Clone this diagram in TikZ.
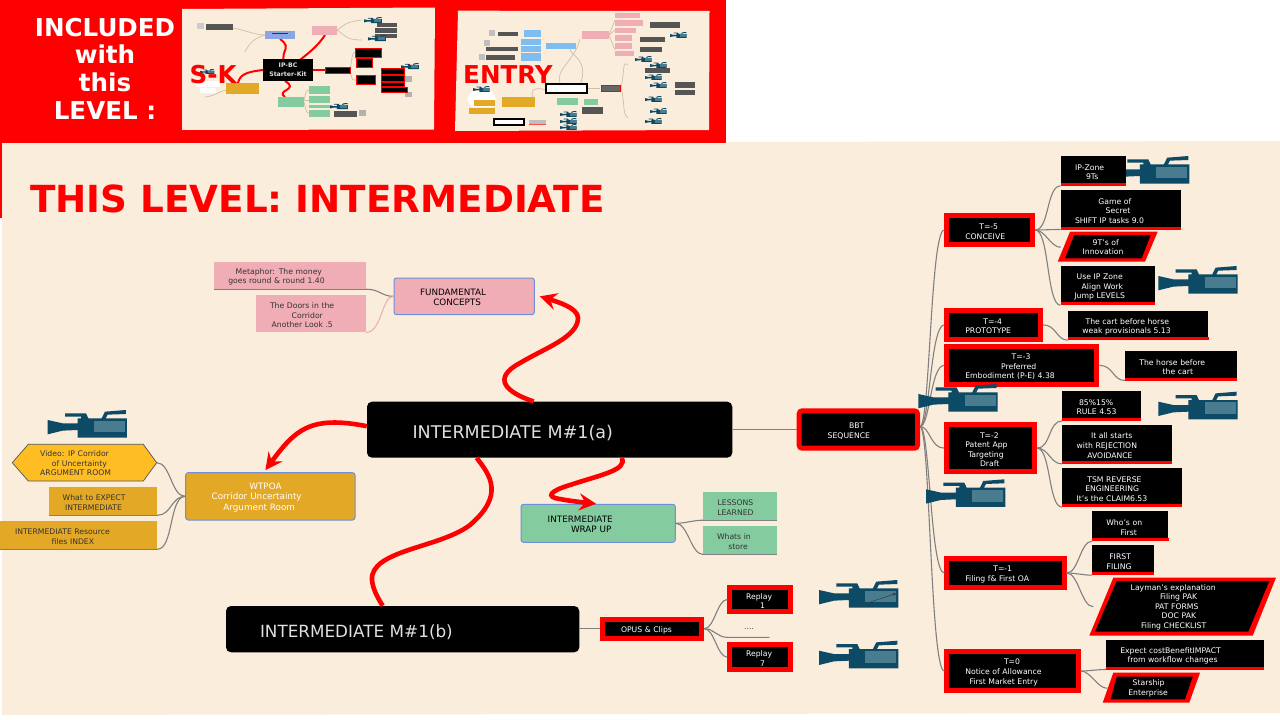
\documentclass[tikz,border=0pt]{standalone}
\usepackage{fontspec}
\setmainfont{DejaVu Sans}
\usetikzlibrary{arrows.meta}
\definecolor{cream}{HTML}{FAEDDC}
\definecolor{pinkb}{HTML}{F0ADB5}
\definecolor{greenb}{HTML}{85CBA0}
\definecolor{orangeb}{HTML}{E3A825}
\definecolor{hexb}{HTML}{FFBD24}
\definecolor{blueb}{HTML}{6F8FDC}
\definecolor{camb}{HTML}{0D4A66}
\definecolor{cams}{HTML}{4A7C90}
\definecolor{conc}{HTML}{808080}
\definecolor{tgray}{HTML}{555555}
\definecolor{lblue}{HTML}{7FBDF0}
\definecolor{tline}{HTML}{CDBFA8}
\newcommand\sm{\fontsize{7.7}{9.6}\selectfont}
\newcommand\md{\fontsize{8.8}{10.7}\selectfont}
\newcommand\Ln[2]{\hspace*{#1pt}#2}
\newcommand\bx[7]{%
  \pgfmathsetmacro\bxw{#5-#3}\pgfmathsetmacro\bxh{#6-#4}%
  \pgfmathsetmacro\bxx{(#3+#5)/2}\pgfmathsetmacro\bxy{(#4+#6)/2}%
  \node[#1,text width=\bxw pt] (#2) at (\bxx,\bxy) {\rule{0pt}{8.6pt}#7};}
\newcommand\rb[1]{\fill[red] (#1.south west) rectangle ([yshift=3pt]#1.south east);}
\newcommand\cam[3]{%
 \begin{scope}[shift={(#1,#2)},scale=#3]
  \fill[camb] (0,30)--(45,40)--(90,40)--(90,25)--(100,25)--(100,20)--(52,20)--(52,10)--(115,10)--(122,25)--(162,25)--(172,5)--(235,0)--(235,12)--(180,14)--(174,25)--(238,25)--(238,83)--(90,83)--(90,60)--(45,62)--(0,73)--cycle;
  \fill[cams] (139,32) rectangle (232,67);
 \end{scope}}
\tikzset{
 x=1pt,y=-1pt,
 bxbase/.style={inner sep=0pt,align=left,font=\sm,text=white},
 kbox/.style={bxbase,fill=black,minimum height=\bxh pt},
 rbox/.style={bxbase,fill=black,draw=red,line width=5pt,inner xsep=-2.5pt,minimum height=\bxh pt-5pt},
 rrbox/.style={rbox,rounded corners=3pt},
 leaf/.style={inner sep=0pt,align=left,font=\sm,text=black!80,minimum height=\bxh pt},
 pinkleaf/.style={leaf,fill=pinkb},
 greenleaf/.style={leaf,fill=greenb},
 orangeleaf/.style={leaf,fill=orangeb},
 topic/.style={inner xsep=0pt,inner ysep=0pt,align=left,font=\md,draw=blueb,line width=1pt,rounded corners=2.5pt,minimum height=\bxh pt},
 mainbox/.style={inner sep=0pt,align=left,text=white!88!black,fill=black,rounded corners=5pt,minimum height=\bxh pt},
 conn/.style={draw=conc,line width=1.1pt},
 redc/.style={draw=red,line width=4.6pt},
 redarrow/.style={redc,-{Stealth[length=17pt,width=17pt,inset=6pt]}},
 para/.style={inner sep=0pt,align=left,font=\sm,text=white},
 under/.style={draw=conc,line width=1.1pt},
 big/.style={inner sep=0pt,font=\bfseries\fontsize{24.6}{27.7}\selectfont},
 tred/.style={draw=red,line width=2pt},
 tl/.style={draw=tline,line width=0.7pt},
}
\begin{document}
\begin{tikzpicture}
\useasboundingbox (0,0) rectangle (1280,720);
\fill[white] (0,0) rectangle (1280,720);
\fill[cream] (2,143)--(726,143)--(726,142)--(1280,141)--(1280,713)--(2,715)--cycle;
\fill[red] (0,0) rectangle (726,143);
\fill[red] (0,143) rectangle (1.5,218);
% ---------- thumbnail 1
\fill[cream] (182,9)--(435,7.5)--(434,129.5)--(182,130)--cycle;
\draw[tred] (288,70) .. controls (275,50) and (295,50) .. (280,39);
\draw[tred] (288,70) .. controls (305,55) and (315,50) .. (325,35);
\draw[tred] (263,70) .. controls (245,72) and (240,75) .. (238,83);
\draw[tred] (285,81) .. controls (300,90) and (275,90) .. (285,97);
\draw[tred] (313,70) -- (325,70);
\draw[tl] (350,70) .. controls (352,60) and (352,52) .. (355,52);
\draw[tl] (350,70) .. controls (352,80) and (352,80) .. (356,80);
\draw[tl] (265,35) .. controls (255,35) and (245,30) .. (233,28);
\draw[tl] (265,35) .. controls (255,38) and (250,42) .. (245,52);
\draw[tl] (337,30) .. controls (345,25) and (345,22) .. (362,20);
\draw[tl] (337,30) .. controls (345,35) and (345,40) .. (362,40);
\draw[tl] (226,90) .. controls (218,92) and (215,96) .. (205,97);
\draw[tl] (304,100) .. controls (306,92) and (306,90) .. (309,90);
\draw[tl] (304,100) -- (309,100);
\draw[tl] (304,102) .. controls (306,110) and (306,113) .. (309,113);
\foreach \a/\b/\c/\d in {206/24/233/30,377/23/397/27,375/28/397/33,375/34/397/38,334/111/357/117}
  \fill[tgray] (\a,\b) rectangle (\c,\d);
\fill[black!20] (197,23) rectangle (204,29);
\fill[black!30] (405,76) rectangle (412,82);
\fill[black!30] (405,92) rectangle (412,97);
\fill[black!30] (359,110) rectangle (366,116);
\fill[black] (263,59) rectangle (313,81);
\node[inner sep=0pt,align=center,text=white!88!black,font=\bfseries\fontsize{6.2}{8.7}\selectfont] (kit) at (288,70) {IP-BC\\Starter-Kit};
\fill[blueb!80!white] (265,31) rectangle (295,39);
\fill[red!70!black] (272,33) rectangle (288,34);
\fill[pinkb] (312,26) rectangle (337,35);
\fill[orangeb] (226,83) rectangle (259,94);
\fill[greenb] (278,97) rectangle (304,107);
\foreach \a/\b/\c/\d in {309/86/330/94,309/96/330/103,309/105/330/108,309/110/330/117}
  \fill[greenb] (\a,\b) rectangle (\c,\d);
\foreach \a/\b/\c/\d in {325/67/350/73,355/48/381/57,356/75/375/84,381/68/404/74,381/75/404/81,381/82/404/86,381/87/407/92,356/58/372/67}
  \draw[fill=black,draw=red,line width=1pt] (\a,\b) rectangle (\c,\d);
\fill[white] (196,81) rectangle (220,87);
\fill[white] (200,88) rectangle (216,93);
\cam{364}{17}{0.075}\cam{368}{35}{0.075}\cam{401}{63}{0.075}\cam{330}{103}{0.075}\cam{200}{69}{0.06}
% ---------- thumbnail 2
\fill[cream] (458,10.7)--(709.5,11)--(709,130)--(455,131)--cycle;
\draw[tl] (580,85) .. controls (590,60) and (570,55) .. (570,49);
\draw[tl] (560,83) .. controls (555,70) and (575,60) .. (580,39);
\draw[tl] (609,35) -- (615,20);\draw[tl] (609,35) -- (615,30);\draw[tl] (609,35) -- (615,50);
\draw[tl] (546,90) .. controls (530,85) and (530,95) .. (535,100);
\draw[tl] (621,88) .. controls (625,70) and (622,60) .. (628,65);
\draw[tl] (621,88) .. controls (625,100) and (622,115) .. (628,118);
\draw[tl] (587,88) -- (600,88);
\foreach \a/\b/\c/\d in {615/13/640/18,615/20/643/26,615/28/636/33,615/35/632/41,615/43/632/49,615/51/634/56}
  \fill[pinkb] (\a,\b) rectangle (\c,\d);
\fill[pinkb] (582,31) rectangle (609,39);
\foreach \a/\b/\c/\d in {524/30/541/37,521/39/541/45,521/46/541/52,521/53/541/61,546/43/576/49}
  \fill[lblue] (\a,\b) rectangle (\c,\d);
\foreach \a/\b/\c/\d in {498/32/518/36,486/47/518/51,486/55/515/60,650/22/680/28,640/37/665/42,640/47/662/52,645/68/670/73,675/82/695/88,675/90/695/95,582/107/603/114}
  \fill[tgray] (\a,\b) rectangle (\c,\d);
\foreach \a/\b/\c/\d in {489/30/495/36,484/40/490/46,479/54/485/60}
  \fill[black!25] (\a,\b) rectangle (\c,\d);
\fill[white] (467,99)--(472,91)--(492,91)--(496,99)--(492,107)--(472,107)--cycle;
\fill[orangeb] (502,97) rectangle (535,107);
\fill[orangeb] (474,100) rectangle (495,106);
\fill[orangeb] (469,108) rectangle (495,114);
\fill[greenb] (557,98) rectangle (578,105);
\fill[greenb] (584,99) rectangle (598,105);
\draw[fill=white,draw=black,line width=1.3pt] (546,84) rectangle (587,93);
\draw[fill=white,draw=black,line width=1.3pt] (494,119) rectangle (524,125);
\draw[fill=black!60,draw=red,line width=1pt] (601,85.5) rectangle (620,91);
\fill[black!25] (529,120) rectangle (546,124);
\fill[red!70] (529,124) rectangle (546,125);
\foreach \x/\y in {635/56,650/62,645/74,650/82,645/96,650/108,645/118} { \cam{\x}{\y}{0.07} }
\foreach \x/\y in {560/111,560/118,560/124} { \cam{\x}{\y}{0.07} }
\cam{473}{86}{0.07}\cam{670}{32}{0.07}
% ---------- header text
\node[big,text=white,align=center] (inc) at (105,68.5) {INCLUDED\\with\\this\\LEVEL :};
\node[big,text=red,anchor=base west] (sk) at (189.5,83) {S-K};
\node[big,text=red,anchor=base west] (entry) at (463,83) {ENTRY};
\node[inner sep=0pt,text=red,font=\bfseries\fontsize{37.3}{40}\selectfont,anchor=base west] (lvl) at (30,212) {THIS LEVEL: INTERMEDIATE};
% ---------- camera under IP-Zone
\cam{1110}{156}{0.333}
% ---------- main boxes
\bx{mainbox,font=\fontsize{17.5}{20}\selectfont}{A}{367}{401.7}{732.3}{457.7}{\Ln{45.5}{\raisebox{-4pt}[0pt][0pt]{INTERMEDIATE M\#1(a)}}}
\bx{mainbox,font=\fontsize{16.8}{20}\selectfont}{B}{226}{606}{579.3}{652.3}{\Ln{34}{\raisebox{-4.4pt}[0pt][0pt]{INTERMEDIATE M\#1(b)}}}
\bx{rrbox}{bbt}{796.7}{408.3}{920}{450.7}{\Ln{52.3}{BBT}\\\Ln{31}{SEQUENCE}}
\bx{topic,fill=pinkb,text=black}{fund}{394}{278}{534.3}{314.7}{\Ln{26}{FUNDAMENTAL}\\\Ln{39.3}{CONCEPTS}}
\bx{topic,fill=orangeb,text=white}{wtpoa}{185.7}{472.7}{355}{520}{\Ln{63.7}{WTPOA}\\\Ln{26}{Corridor Uncertainty}\\\Ln{37.7}{Argument Room}}
\bx{topic,fill=greenb,text=black}{wrap}{521}{504.3}{675.3}{542.3}{\Ln{26.7}{INTERMEDIATE}\\\Ln{50}{WRAP UP}}
% leaves
\bx{pinkleaf}{meta}{214}{261.7}{365.7}{289}{\Ln{21.7}{Metaphor: The money}\\\Ln{14.3}{goes round \& round 1.40}}
\bx{pinkleaf}{doors}{255.7}{295.3}{365.7}{332.3}{\Ln{14.3}{The Doors in the}\\\Ln{36}{Corridor}\\\Ln{16}{Another Look .5}}
\bx{orangeleaf}{expect}{48.7}{487.3}{157.3}{515}{\Ln{14}{What to EXPECT}\\\Ln{16.3}{INTERMEDIATE}}
\bx{orangeleaf}{res}{0}{521}{157.3}{549}{\Ln{15}{INTERMEDIATE Resource}\\\Ln{51.7}{files INDEX}}
\bx{greenleaf}{less}{703.3}{492}{777}{520}{\Ln{14.3}{LESSONS}\\\Ln{14}{LEARNED}}
\bx{greenleaf}{whats}{703.3}{526.3}{777}{554.3}{\Ln{13.7}{Whats in}\\\Ln{25}{store}}
\draw[under] (meta.south west) -- (meta.south east);
\draw[under] (expect.south west) -- (expect.south east);
\draw[under] (res.south west) -- (res.south east);
\draw[under] (less.south west) -- (less.south east);
\draw[under] (whats.south west) -- (whats.south east);
% hexagon
\draw[fill=hexb,draw=tgray,line width=0.7pt] (12.3,462.7)--(28.3,444.3)--(143.3,444.3)--(156.7,462.7)--(143.3,481)--(28.3,481)--cycle;
\node[inner sep=0pt,align=left,font=\sm,text=black!80,text width=144pt] (hexa) at (84.5,463.5) {\Ln{27.7}{Video: IP Corridor}\\\Ln{39.4}{of Uncertainty}\\\Ln{27.7}{ARGUMENT ROOM}};
\coordinate (hexr) at (156.7,462.7);
% T column
\bx{rbox}{t5}{944.3}{213.3}{1035.3}{246.7}{\Ln{35}{T=-5}\\\Ln{21}{CONCEIVE}}
\bx{rbox}{t4}{944.3}{308}{1042.7}{341.7}{\Ln{39}{T=-4}\\\Ln{21}{PROTOTYPE}}
\bx{rbox}{t3}{944.3}{344}{1099.3}{386.7}{\Ln{67.3}{T=-3}\\\Ln{56.7}{Preferred}\\\Ln{21}{Embodiment (P-E) 4.38}}
\bx{rbox}{t2}{944.3}{422.3}{1037}{474}{\Ln{35.7}{T=-2}\\\Ln{21}{Patent App}\\\Ln{23.7}{Targeting}\\\Ln{35.7}{Draft}}
\bx{rbox}{t1}{944.3}{556}{1066.7}{590}{\Ln{49}{T=-1}\\\Ln{21}{Filing f\& First OA}}
\bx{rbox}{t0}{944.3}{649.3}{1080.7}{692.7}{\Ln{59.7}{T=0}\\\Ln{21}{Notice of Allowance}\\\Ln{25.3}{First Market Entry}}
% children
\bx{kbox}{ipz}{1060.7}{156}{1126}{185.7}{\Ln{14.3}{IP-Zone}\\\Ln{25.3}{9Ts}}\rb{ipz}
\bx{kbox}{game}{1060.7}{190}{1180.7}{229.3}{\Ln{37.7}{Game of}\\\Ln{45}{Secret}\\\Ln{14.3}{SHIFT IP tasks 9.0}}\rb{game}
\bx{kbox}{useip}{1060.7}{266}{1154.7}{305}{\Ln{16}{Use IP Zone}\\\Ln{21}{Align Work}\\\Ln{13.7}{Jump LEVELS}}\rb{useip}
\bx{kbox}{cart}{1068.3}{310.7}{1208.3}{340}{\Ln{17.3}{The cart before horse}\\\Ln{14}{weak provisionals 5.13}}\rb{cart}
\bx{kbox}{horse}{1125}{351}{1236.7}{380.3}{\Ln{14.3}{The horse before}\\\Ln{37.7}{the cart}}\rb{horse}
\bx{kbox}{rule}{1062.3}{391}{1140.7}{420.7}{\Ln{16.7}{85\%15\%}\\\Ln{14.3}{RULE 4.53}}\rb{rule}
\bx{kbox}{itall}{1062.3}{424.7}{1171.7}{463.7}{\Ln{28.7}{It all starts}\\\Ln{14.3}{with REJECTION}\\\Ln{25}{AVOIDANCE}}\rb{itall}
\bx{kbox}{tsm}{1062.3}{468}{1181.7}{507}{\Ln{25}{TSM REVERSE}\\\Ln{23}{ENGINEERING}\\\Ln{14.3}{It's the CLAIM6.53}}\rb{tsm}
\bx{kbox}{who}{1092.3}{511.3}{1168.3}{541}{\Ln{14}{Who's on}\\\Ln{28.3}{First}}\rb{who}
\bx{kbox}{first}{1092.3}{545.3}{1154}{575}{\Ln{17}{FIRST}\\\Ln{14.3}{FILING}}\rb{first}
\bx{kbox}{exp}{1106}{640}{1263.7}{669.3}{\Ln{14.3}{Expect costBenefitIMPACT}\\\Ln{21.7}{from workflow changes}}\rb{exp}
% parallelograms
\fill[red] (1070,231.7)--(1157.7,231.7)--(1145,261.7)--(1057.7,261.7)--cycle;
\fill[black] (1074.3,235)--(1150.7,235)--(1141.7,258.3)--(1065,258.3)--cycle;
\node[para,text width=80pt] (nine) at (1107.7,247.2) {\Ln{25}{9T's of}\\\Ln{15}{Innovation}};
\coordinate (ninel) at (1060.7,247.3);
\fill[red] (1113.3,577.7)--(1276,577.7)--(1252.7,635.7)--(1089.3,635.7)--cycle;
\fill[black] (1116.7,581)--(1269.3,581)--(1248.3,631.7)--(1095,631.7)--cycle;
\node[para,text width=130pt] (lay) at (1182.7,607.2) {\Ln{13}{Layman's explanation}\\\Ln{42.3}{Filing PAK}\\\Ln{37.3}{PAT FORMS}\\\Ln{44}{DOC PAK}\\\Ln{23.3}{Filing CHECKLIST}};
\coordinate (layl) at (1093.3,606.7);
\fill[red] (1113.3,672.7)--(1200,672.7)--(1189.3,702.7)--(1102.7,702.7)--cycle;
\fill[black] (1116.7,676.7)--(1192.7,676.7)--(1185,699.3)--(1110.7,699.3)--cycle;
\node[para,text width=60pt] (star) at (1151,688.5) {\Ln{11.7}{Starship}\\\Ln{7.3}{Enterprise}};
\coordinate (starl) at (1107.3,688.3);
% opus
\bx{rbox}{opus}{600.3}{616.7}{704.3}{640.7}{\Ln{20.7}{OPUS \& Clips}}
\bx{rbox}{rep1}{727.3}{584.7}{793.3}{614.3}{\Ln{18.7}{Replay}\\\Ln{32.7}{1}}
\bx{rbox}{rep7}{727.3}{642}{793.3}{672.3}{\Ln{18.7}{Replay}\\\Ln{32.7}{7}}
\node[inner sep=0pt,font=\sm,text=black!70] (dots) at (749,629.5) {....};
\coordinate (dotsl) at (727,637.3);
\coordinate (dotsr) at (769.3,637.3);
% connectors
\draw[conn] (A.east |- bbt.west) -- (bbt.west);
\draw[conn] (B.east |- opus.west) -- (opus.west);
\foreach \t in {t5,t4,t3,t2,t1,t0}{
  \draw[conn] ([yshift=3pt]bbt.east) .. controls +(10,0) and +(-14,0) .. (\t.west);}
\draw[conn] (t5.east) .. controls +(14,0) and +(-14,0) .. (ipz.south west);
\draw[conn] (t5.east) .. controls +(8,0) and +(-10,0) .. (game.south west);
\draw[conn] (t5.east) .. controls +(10,0) and +(-10,0) .. (ninel);
\draw[conn] (t5.east) .. controls +(14,0) and +(-14,0) .. (useip.south west);
\draw[conn] (t4.east) .. controls +(14,0) and +(-12,0) .. (cart.south west);
\draw[conn] (t3.east) .. controls +(14,0) and +(-12,0) .. (horse.south west);
\draw[conn] (t2.east) .. controls +(14,0) and +(-14,0) .. (rule.south west);
\draw[conn] (t2.east) .. controls +(12,0) and +(-12,0) .. (itall.south west);
\draw[conn] (t2.east) .. controls +(14,0) and +(-14,0) .. (tsm.south west);
\draw[conn] (t1.east) .. controls +(12,0) and +(-12,0) .. (who.south west);
\draw[conn] (t1.east) .. controls +(8,0) and +(-8,0) .. (first.south west);
\draw[conn] (t1.east) .. controls +(12,0) and +(-12,0) .. (layl);
\draw[conn] (t0.east) .. controls +(8,0) and +(-8,0) .. (exp.south west);
\draw[conn] (t0.east) .. controls +(10,0) and +(-10,0) .. (starl);
\draw[conn] (wtpoa.west) .. controls +(-14,0) and +(14,0) .. (hexr);
\draw[conn] (wtpoa.west) .. controls +(-14,0) and +(14,0) .. (expect.south east);
\draw[conn] (wtpoa.west) .. controls +(-16,0) and +(16,0) .. (res.south east);
\draw[conn] (meta.south east) .. controls +(14,0) and +(-12,0) .. (fund.west);
\draw[draw=pinkb,line width=1.1pt] (doors.south east) .. controls +(16,0) and +(-12,0) .. (fund.west);
\draw[conn] (wrap.east) .. controls +(10,0) and +(-10,0) .. (less.south west);
\draw[conn] (wrap.east) .. controls +(12,0) and +(-12,0) .. (whats.south west);
\draw[conn] (opus.east) .. controls +(10,0) and +(-10,0) .. (rep1.west);
\draw[conn] (opus.east) .. controls +(10,0) and +(-10,0) .. (dotsl) -- (dotsr);
\draw[conn] (opus.east) .. controls +(10,0) and +(-10,0) .. (rep7.west);
% red arrows
\draw[redarrow] ([xshift=-16pt]A.north) .. controls (505,392) and (492,378) .. (520,363) .. controls (545,348) and (578,337) .. (578,318) .. controls (578,308) and (558,302) .. ([xshift=5pt]fund.east);
\draw[redarrow] ([yshift=3.5pt]A.west) .. controls (310,415) and (295,430) .. ([xshift=-5pt,yshift=2pt]wtpoa.north);
\draw[redc] ([xshift=-73pt]A.south) .. controls (490,475) and (505,495) .. (470,525) .. controls (440,548) and (370,550) .. (372,580) .. controls (373,590) and (378,598) .. ([xshift=-20pt]B.north);
\draw[redarrow] ([xshift=72pt]A.south) .. controls (628,470) and (600,475) .. (570,485) .. controls (550,491) and (545,497) .. (560,499) .. controls (570,501) and (580,502) .. ([xshift=-2pt]wrap.north);
% cameras
\cam{1158.3}{266}{0.333}
\cam{918.3}{384}{0.333}
\cam{1158.3}{391.7}{0.333}
\cam{926}{479.3}{0.333}
\cam{47.7}{410}{0.333}
\cam{819}{580}{0.333}
\cam{819}{640.7}{0.333}
\coordinate (ptra) at (858.3,606);
\coordinate (ptrb) at (896.7,593.3);
\draw[draw=black!75,line width=0.6pt,-{Stealth[length=4pt,width=3pt]}] (ptra) -- (ptrb);
\end{tikzpicture}
\end{document}
